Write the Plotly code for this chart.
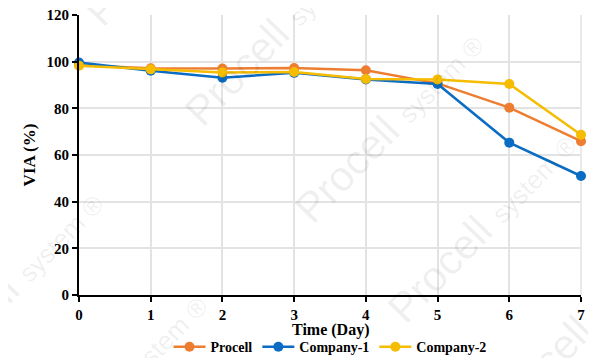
import plotly.graph_objects as go

days = [0, 1, 2, 3, 4, 5, 6, 7]
procell = [98.5, 97.2, 97.1, 97.3, 96.3, 90.7, 80.3, 65.9]
company1 = [99.6, 96.1, 93.1, 95.2, 92.4, 90.4, 65.3, 51.0]
company2 = [98.3, 96.7, 95.4, 95.6, 92.6, 92.4, 90.4, 68.7]

series = [("Procell", procell, "#ED7D31"),
          ("Company-1", company1, "#0A6CC2"),
          ("Company-2", company2, "#F5BC00")]

fig = go.Figure()
for name, vals, col in series:
    fig.add_trace(go.Scatter(x=days, y=vals, name=name, mode="lines+markers",
                             line=dict(color=col, width=2.5),
                             marker=dict(color=col, size=10), cliponaxis=False))

ff = "Liberation Serif"
# page body has an 8px margin, so the figure is sized/offset to compensate
fig.update_layout(
    width=588, height=350,
    margin=dict(l=71, r=15, t=7, b=63, autoexpand=False),
    paper_bgcolor="white", plot_bgcolor="white",
    font=dict(family=ff, size=15, color="black"),
    showlegend=True,
    legend=dict(orientation="h", x=0.5, xanchor="center", y=-0.186, yanchor="middle",
                font=dict(family=ff, size=14, color="black", weight="bold"),
                tracegroupgap=0, itemwidth=32, bgcolor="rgba(0,0,0,0)"),
    xaxis=dict(range=[0, 7], tickvals=days, showgrid=True, gridcolor="#E3E3E3", gridwidth=1.5,
               showline=True, linecolor="black", linewidth=2, ticks="outside", ticklen=5,
               tickwidth=1.5, tickcolor="black", automargin=False,
               ticklabeloverflow="allow",
               tickfont=dict(family=ff, size=15, weight="bold"),
               zeroline=False),
    yaxis=dict(range=[0, 120], tickvals=[0, 20, 40, 60, 80, 100, 120], showgrid=True,
               gridcolor="#E3E3E3", gridwidth=1.5,
               showline=True, linecolor="black", linewidth=2, ticks="outside", ticklen=5,
               tickwidth=1.5, tickcolor="black", automargin=False,
               ticklabeloverflow="allow",
               tickfont=dict(family=ff, size=15, weight="bold"),
               title=dict(text="VIA (%)", standoff=7,
                          font=dict(family=ff, size=17, weight="bold")),
               zeroline=False),
)
fig.add_annotation(text="Time (Day)", xref="paper", yref="paper", x=0.5, y=-0.124,
                   xanchor="center", yanchor="middle", showarrow=False,
                   font=dict(family=ff, size=16, weight="bold", color="black"))
fig.add_shape(type="line", xref="paper", yref="paper", x0=1, x1=1, y0=0, y1=1,
              line=dict(color="#E3E3E3", width=1.5), layer="below")
fig.add_shape(type="line", xref="paper", yref="paper", x0=1.02, x1=1.02, y0=-0.23, y1=1.06,
              line=dict(color="#E6E6E6", width=1.5), layer="below")

# faint diagonal watermark, centres given in screen pixels
wm_centres = [(178, -71), (278, 29), (388, 126), (481, 226), (581, 326), (8, 285), (112, 387)]
for sx, sy in wm_centres:
    fig.add_annotation(
        text="Procell <span style='font-size:26px'>system ®</span>",
        xref="paper", yref="paper", x=(sx - 79) / 502, y=(295 - sy) / 280,
        xanchor="center", yanchor="middle", showarrow=False, textangle=-46,
        font=dict(family="Liberation Sans", size=42, color="rgba(0,0,0,0.07)"))

fig.write_html("out.html")
